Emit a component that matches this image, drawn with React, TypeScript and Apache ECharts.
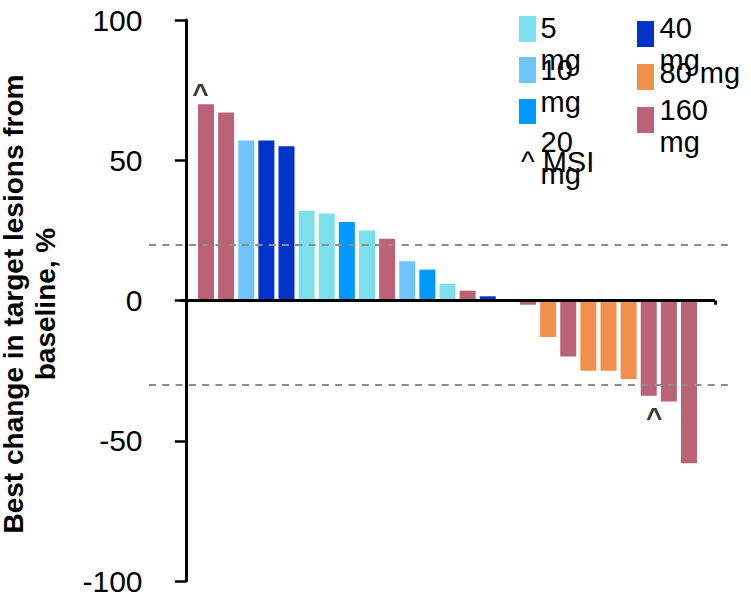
import React, { useEffect, useRef } from "react";
import * as echarts from "echarts";

// Dose cohorts and their bar colours
const DOSE_GROUPS = ["5 mg", "10 mg", "20 mg", "40 mg", "80 mg", "160 mg"];
const DOSE_COLORS = ["#7BE0EC", "#6FC5FB", "#0099FF", "#0033CC", "#F1904A", "#BC6276"];

// One entry per patient slot, ordered by best change (null = empty slot)
const PATIENT_DOSE = [
  "160 mg", "160 mg", "10 mg", "40 mg", "40 mg", "5 mg", "5 mg", "20 mg", "5 mg",
  "160 mg", "10 mg", "20 mg", "5 mg", "160 mg", "40 mg", null,
  "160 mg", "80 mg", "160 mg", "80 mg", "80 mg", "80 mg", "160 mg", "160 mg", "160 mg",
];
const BEST_CHANGE = [
  70, 67, 57, 57, 55, 32, 31, 28, 25, 22, 14, 11, 6, 3.5, 1.5, null,
  -1.5, -13, -20, -25, -25, -28, -34, -36, -58,
];
// Patients with MSI-high tumours (slot indices)
const MSI_PATIENTS = [0, 22];

// Response thresholds (RECIST progression / partial response)
const THRESHOLDS = [20, -30];

const Y_MIN = -100;
const Y_MAX = 100;
const Y_STEP = 50;

const Y_TITLE = ["Best change in target lesions from", "baseline, %"];

const FONT = "'Liberation Sans', Arial, Helvetica, sans-serif";

// Horizontal extent of the plot, in slot units
const SLOT_MIN = -1.832;
const SLOT_MAX = 27.137;
const BASELINE_FROM = -0.267;
const BASELINE_TO = 26.29;

// Legend placement: swatch rect [x, y, w, h], text anchor [x, top], wrapped label
const LEGEND_FONT = 29;
const LEGEND_LAYOUT = [
  { swatch: [519, 16, 17, 26], text: [540.5, 12.2], wrap: true },
  { swatch: [519, 57, 17, 26], text: [540.5, 53.9], wrap: true },
  { swatch: [519, 99, 17, 25], text: [540.5, 125.9], wrap: true },
  { swatch: [637, 21, 17, 26], text: [659.5, 12.2], wrap: true },
  { swatch: [637, 64, 17, 26], text: [659.5, 56.9], wrap: false },
  { swatch: [637, 107, 17, 26], text: [659.5, 93.9], wrap: true },
];
const MSI_LEGEND = "^ MSI";

export default function App() {
  const ref = useRef<HTMLDivElement>(null);

  useEffect(() => {
    if (!ref.current) return;
    const chart = echarts.init(ref.current, null, { renderer: "svg" });

    const barData = BEST_CHANGE.map((v, i) => {
      if (v === null) return null;
      const dose = PATIENT_DOSE[i] as string;
      const color = DOSE_COLORS[DOSE_GROUPS.indexOf(dose)];
      return { value: [i + 1, v], itemStyle: { color } };
    }).filter((d) => d !== null);

    // "^" markers placed at the end of each MSI patient's bar
    const msiData = MSI_PATIENTS.map((i) => {
      const v = BEST_CHANGE[i] as number;
      return {
        value: [i + 1, v],
        label: {
          position: v >= 0 ? "top" : "bottom",
          distance: v >= 0 ? -3.3 : 7.6,
          offset: v >= 0 ? [-5.5, 0] : [5.5, 0],
        },
      };
    });

    const textStyle = (text: string, size: number) => ({
      text,
      fill: "#000",
      fontSize: size,
      fontFamily: FONT,
      lineHeight: 32,
      align: "left",
      verticalAlign: "top",
      textAlign: "left",
      textVerticalAlign: "top",
    });

    const legendGraphics: any[] = [];
    DOSE_GROUPS.forEach((name, i) => {
      const L = LEGEND_LAYOUT[i];
      legendGraphics.push({
        type: "rect",
        shape: { x: L.swatch[0], y: L.swatch[1], width: L.swatch[2], height: L.swatch[3] },
        style: { fill: DOSE_COLORS[i] },
        silent: true,
      });
      legendGraphics.push({
        type: "text",
        x: L.text[0],
        y: L.text[1],
        style: textStyle(L.wrap ? name.replace(" ", "\n") : name, LEGEND_FONT),
        silent: true,
      });
    });
    legendGraphics.push({
      type: "text",
      x: 521,
      y: 145.5,
      style: textStyle(MSI_LEGEND, LEGEND_FONT),
      silent: true,
    });

    // Rotated two-line axis title, one text element per line
    const titleGraphics = Y_TITLE.map((line, k) => ({
      type: "text",
      x: 13 + k * 32,
      y: 304,
      rotation: Math.PI / 2,
      style: {
        text: line,
        fill: "#000",
        fontSize: 28,
        fontWeight: "bold",
        fontFamily: FONT,
        lineHeight: 22,
        align: "center",
        verticalAlign: "middle",
        textAlign: "center",
        textVerticalAlign: "middle",
      },
      silent: true,
    }));

    chart.setOption({
      animation: false,
      backgroundColor: "#ffffff",
      grid: { left: 149, right: 19, top: 20, bottom: 11, containLabel: false },
      xAxis: {
        type: "value",
        min: SLOT_MIN,
        max: SLOT_MAX,
        show: false,
      },
      yAxis: {
        type: "value",
        min: Y_MIN,
        max: Y_MAX,
        interval: Y_STEP,
        offset: -31.5,
        axisLine: { show: true, lineStyle: { color: "#000", width: 3 } },
        axisTick: { show: true, length: 11, lineStyle: { color: "#000", width: 2.5 } },
        axisLabel: {
          fontSize: 30,
          fontFamily: FONT,
          color: "#000",
          margin: 38,
          padding: [0, 0, 8, 0],
        },
        splitLine: { show: false },
      },
      graphic: [...titleGraphics, ...legendGraphics],
      series: [
        {
          type: "bar",
          barWidth: 16,
          data: barData,
          markLine: {
            silent: true,
            symbol: "none",
            label: { show: false },
            data: [
              ...THRESHOLDS.map((t) => ({
                yAxis: t,
                lineStyle: { color: "#8C8C8C", width: 2, type: [7, 6.3] },
              })),
              [
                { coord: [BASELINE_FROM, 0], lineStyle: { color: "#000", width: 3, type: "solid" } },
                { coord: [BASELINE_TO, 0] },
              ],
              [
                { coord: [BASELINE_TO, 0], lineStyle: { color: "#000", width: 3, type: "solid" } },
                { coord: [BASELINE_TO, -1.5] },
              ],
            ],
          },
        },
        {
          type: "scatter",
          symbolSize: 0,
          silent: true,
          z: 5,
          data: msiData,
          label: {
            show: true,
            formatter: "^",
            fontSize: 28,
            fontWeight: "bold",
            fontFamily: FONT,
            color: "#000",
          },
        },
      ],
    });

    return () => chart.dispose();
  }, []);

  return (
    <div
      ref={ref}
      style={{ position: "fixed", left: 0, top: 0, width: 751, height: 596, background: "#fff" }}
    />
  );
}
